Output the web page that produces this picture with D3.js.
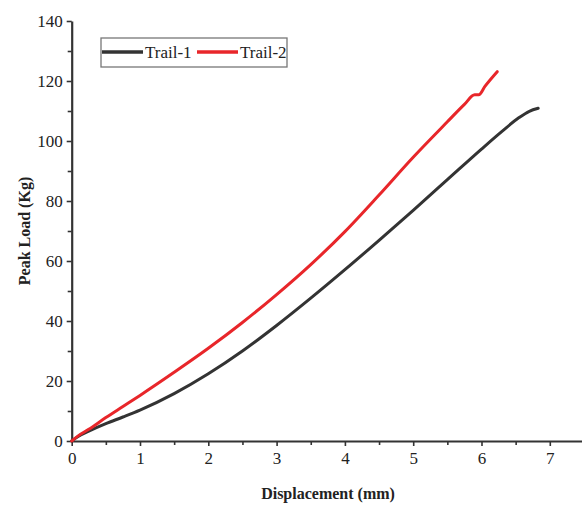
<!DOCTYPE html>
<html>
<head>
<meta charset="utf-8">
<script src="https://cdn.jsdelivr.net/npm/d3@7"></script>
<style>
  body { margin: 0; background: #fff; }
  svg { display: block; }
</style>
</head>
<body>
<div id="chart"></div>
<script>
// trail 1 (black) - displacement / load
var trail1X = [0, 0.1, 0.25, 0.5, 0.75, 1, 1.5, 2, 2.5, 3, 3.5, 4, 4.5, 5, 5.5, 6, 6.3, 6.55, 6.7, 6.83];
var trail1Y = [0, 1.6, 3.3, 5.8, 8.0, 10.3, 15.8, 22.4, 30.0, 38.5, 47.6, 57.1, 66.9, 76.9, 87.1, 97.3, 103.2, 107.8, 109.9, 110.9];
// trail 2 (red)
var trail2X = [0, 0.1, 0.25, 0.5, 0.75, 1, 1.5, 2, 2.5, 3, 3.5, 4, 4.5, 5, 5.5, 5.75, 5.9, 5.96, 6.05, 6.23];
var trail2Y = [0, 1.8, 3.9, 7.8, 11.5, 15.2, 22.9, 30.9, 39.5, 48.8, 58.8, 69.8, 82.0, 94.6, 106.4, 112.2, 115.4, 115.4, 118.2, 123.1];

var xTicks = [0, 1, 2, 3, 4, 5, 6, 7];
var yTicks = [0, 20, 40, 60, 80, 100, 120, 140];
var seriesNames = ["Trail-1", "Trail-2"];
var seriesColors = ["#333333", "#e8262a"];

var width = 582, height = 508;
var margins = { top: 21, bottom: 67, left: 71.7 };

var svg = d3.select("#chart").append("svg")
    .attr("width", width).attr("height", height);

var xScale = d3.scaleLinear().domain([0, 7.5]).range([margins.left, margins.left + 7.5 * 68.3]);
var yScale = d3.scaleLinear().domain([0, 140]).range([height - margins.bottom, margins.top]);

var axisColor = "#333";
var font = "'Liberation Serif', 'Times New Roman', serif";

// minor ticks first
var xMinor = d3.range(0.5, 7.5, 1);
var yMinor = d3.range(10, 140, 20);
svg.append("g")
    .attr("transform", "translate(0," + yScale(0) + ")")
    .call(d3.axisBottom(xScale).tickValues(xMinor).tickSize(4).tickFormat(""))
    .call(function(g) { g.select(".domain").remove(); });
svg.append("g")
    .attr("transform", "translate(" + xScale(0) + ",0)")
    .call(d3.axisLeft(yScale).tickValues(yMinor).tickSize(4).tickFormat(""))
    .call(function(g) { g.select(".domain").remove(); });

var xAxis = svg.append("g")
    .attr("transform", "translate(0," + yScale(0) + ")")
    .call(d3.axisBottom(xScale).tickValues(xTicks).tickSize(5).tickSizeOuter(0).tickPadding(6).tickFormat(d3.format("d")));
var yAxis = svg.append("g")
    .attr("transform", "translate(" + xScale(0) + ",0)")
    .call(d3.axisLeft(yScale).tickValues(yTicks).tickSize(5).tickSizeOuter(0).tickPadding(4).tickFormat(d3.format("d")));

svg.selectAll(".tick line").attr("stroke", axisColor).attr("stroke-width", 1.6);
svg.selectAll(".domain").attr("stroke", axisColor).attr("stroke-width", 2.2);
svg.selectAll(".tick text")
    .attr("fill", "#222")
    .style("font-family", font)
    .style("font-size", "17px");

// axis titles
svg.append("text")
    .attr("x", 328).attr("y", 499)
    .attr("text-anchor", "middle")
    .style("font-family", font).style("font-weight", "bold").style("font-size", "16px")
    .attr("fill", "#222")
    .text("Displacement (mm)");
svg.append("text")
    .attr("transform", "translate(30," + ((yScale(0) + yScale(140)) / 2) + ") rotate(-90)")
    .attr("text-anchor", "middle")
    .style("font-family", font).style("font-weight", "bold").style("font-size", "16px")
    .attr("fill", "#222")
    .text("Peak Load (Kg)");

// curves
var line = d3.line()
    .x(function(d) { return xScale(d[0]); })
    .y(function(d) { return yScale(d[1]); })
    .curve(d3.curveMonotoneX);

var series = [d3.zip(trail1X, trail1Y), d3.zip(trail2X, trail2Y)];
series.forEach(function(pts, i) {
    svg.append("path")
        .datum(pts)
        .attr("fill", "none")
        .attr("stroke", seriesColors[i])
        .attr("stroke-width", 3)
        .attr("stroke-linejoin", "round")
        .attr("stroke-linecap", "round")
        .attr("d", line);
});

// legend
var legend = svg.append("g").attr("transform", "translate(101,38)");
legend.append("rect")
    .attr("width", 186).attr("height", 29)
    .attr("fill", "#fff")
    .attr("stroke", "#777").attr("stroke-width", 1.3);
var legendItemX = [1, 96];
seriesNames.forEach(function(name, i) {
    var g = legend.append("g").attr("transform", "translate(" + legendItemX[i] + ",14)");
    g.append("line")
        .attr("x1", 0).attr("x2", 41)
        .attr("stroke", seriesColors[i]).attr("stroke-width", 3.5);
    g.append("text")
        .attr("x", 43).attr("y", 6)
        .style("font-family", font).style("font-size", "17px")
        .attr("fill", "#222")
        .text(name);
});
</script>
</body>
</html>
